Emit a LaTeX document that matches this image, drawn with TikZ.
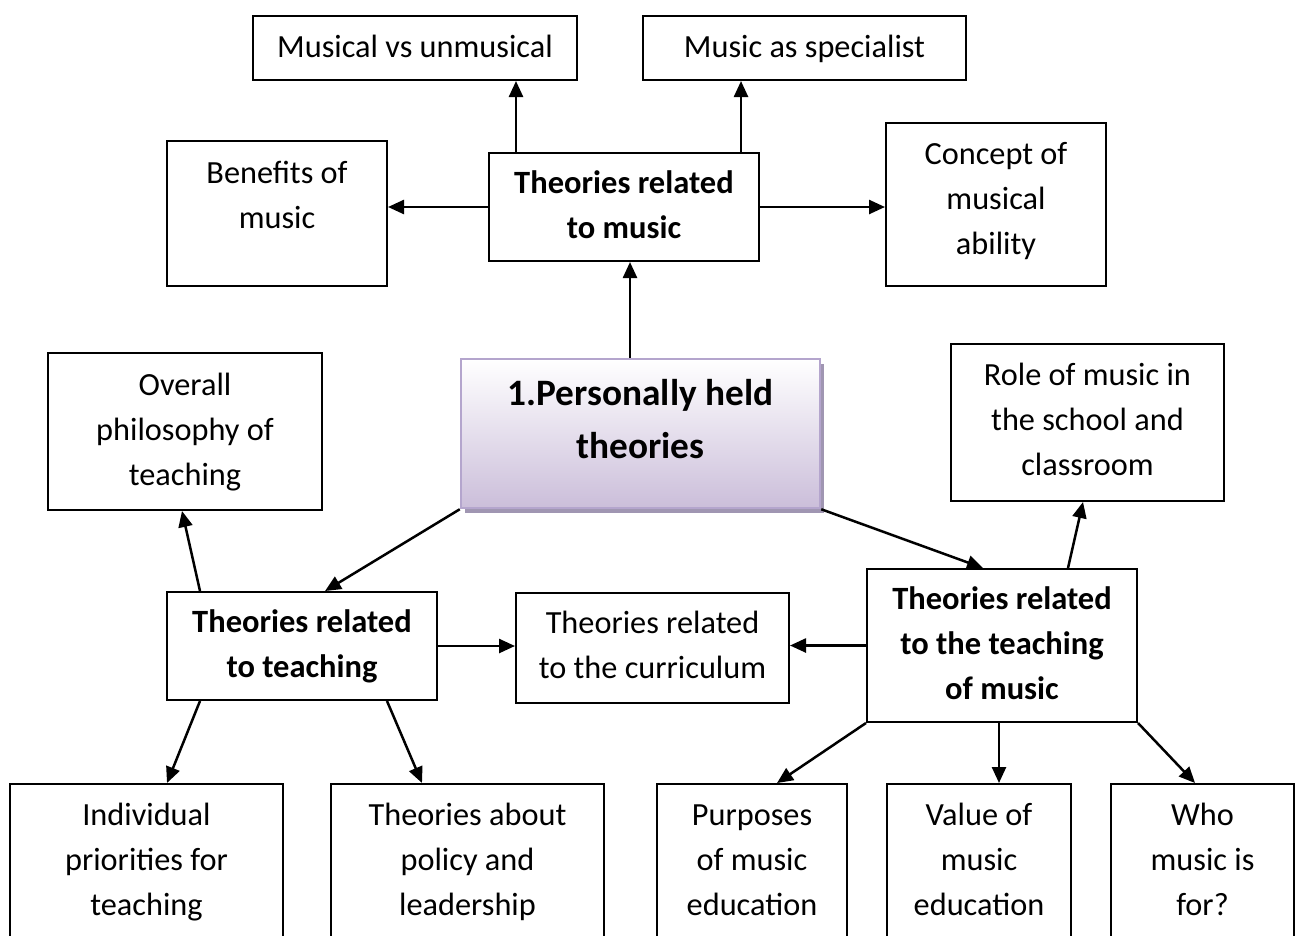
\documentclass[tikz,border=0pt]{standalone}
\usepackage{fontspec}
\setmainfont{Carlito}
\usetikzlibrary{arrows.meta,shadows}
\definecolor{cenborder}{RGB}{180,165,205}
\definecolor{cenbottom}{RGB}{203,190,218}
\definecolor{censhadow}{RGB}{160,150,178}
\begin{document}
\begin{tikzpicture}[x=1pt,y=-1pt,
  box/.style={draw, line width=2pt, inner sep=0pt, minimum width=#1},
  txt/.style={font=\fontsize{32.3pt}{45pt}\selectfont, align=center, inner sep=0pt},
  btxt/.style={txt, font=\fontsize{32.5pt}{45pt}\selectfont\bfseries},
  arr/.style={line width=2.5pt, -{Triangle[length=16pt,width=14pt]}}]
\useasboundingbox (0,0) rectangle (1300,935);
\clip (0,0) rectangle (1300,935);
% top row
\node[box=324pt, minimum height=64pt, label={[txt]center:\strut Musical vs unmusical}] (mvu) at (415,48) {};
\node[box=323pt, minimum height=64pt, label={[txt]center:\strut Music as specialist}] (mas) at (804.5,48) {};
\node[box=220pt, minimum height=145pt, label={[txt,yshift=17pt]center:\strut Benefits of\\music\strut}] (ben) at (277,213.5) {};
\node[box=270pt, minimum height=108pt, label={[btxt]center:\strut Theories related\\to music\strut}] (trm) at (624,207) {};
\node[box=220pt, minimum height=163pt, label={[txt,yshift=4.5pt]center:\strut Concept of\\musical\\ability\strut}] (con) at (996,204.5) {};
% central
\node[draw=cenborder, line width=2.5pt, inner sep=0pt, minimum width=359pt, minimum height=149pt,
  top color=white, bottom color=cenbottom,
  drop shadow={shadow xshift=4pt, shadow yshift=-5pt, fill=censhadow, opacity=1},
  label={[inner sep=0pt, align=center, font=\fontsize{37.3pt}{53pt}\selectfont\bfseries, yshift=12.6pt]center:\strut 1.Personally held\\theories\strut}] (cen) at (640.5,433.5) {};
% middle row
\node[box=274pt, minimum height=157pt, label={[txt]center:\strut Overall\\philosophy of\\teaching\strut}] (ovr) at (185,431.5) {};
\node[box=273pt, minimum height=157pt, label={[txt,yshift=1.5pt]center:\strut Role of music in\\the school and\\classroom\strut}] (rol) at (1087.5,422.5) {};
\node[box=270pt, minimum height=108pt, label={[btxt]center:\strut Theories related\\to teaching\strut}] (trt) at (302,646) {};
\node[box=273pt, minimum height=110pt, label={[txt,yshift=1.5pt]center:\strut Theories related\\to the curriculum\strut}] (cur) at (652.5,648) {};
\node[box=270pt, minimum height=153pt, label={[btxt]center:\strut Theories related\\to the teaching\\of music\strut}] (ttm) at (1002,645.5) {};
% bottom row
\node[box=273pt, minimum height=176pt, label={[txt,yshift=10.5pt]center:\strut Individual\\priorities for\\teaching\strut}] (ind) at (146.5,872) {};
\node[box=273pt, minimum height=176pt, label={[txt,yshift=10.5pt]center:\strut Theories about\\policy and\\leadership\strut}] (pol) at (467.5,872) {};
\node[box=190pt, minimum height=176pt, label={[txt,yshift=10.5pt]center:\strut Purposes\\of music\\education\strut}] (pur) at (752,872) {};
\node[box=184pt, minimum height=176pt, label={[txt,yshift=10.5pt]center:\strut Value of\\music\\education\strut}] (val) at (979,872) {};
\node[box=183pt, minimum height=176pt, label={[txt,yshift=10.5pt]center:\strut Who\\music is\\for?\strut}] (who) at (1202.5,872) {};
% connectors
\draw[arr] ([xshift=-10.5pt]cen.north) -- ([xshift=-10.5pt]cen.north |- trm.south);
\draw[arr] ([xshift=-108pt]trm.north) -- ([xshift=-108pt]trm.north |- mvu.south);
\draw[arr] ([xshift=117pt]trm.north) -- ([xshift=117pt]trm.north |- mas.south);
\draw[arr] (trm.west) -- (trm.west -| ben.east);
\draw[arr] (trm.east) -- (trm.east -| con.west);
\draw[arr] (cen.south west) -- ([xshift=23pt]trt.north);
\draw[arr] (cen.south east) -- ([xshift=-19pt]ttm.north);
\draw[arr] ([xshift=-102pt]trt.north) -- ([xshift=-3pt]ovr.south);
\draw[arr] (trt.east) -- (trt.east -| cur.west);
\draw[arr] (ttm.west) -- (ttm.west -| cur.east);
\draw[arr] ([xshift=66pt]ttm.north) -- ([xshift=-4.5pt]rol.south);
\draw[arr] ([xshift=-102pt]trt.south) -- ([xshift=20.5pt]ind.north);
\draw[arr] ([xshift=85pt]trt.south) -- ([xshift=-45.5pt]pol.north);
\draw[arr] (ttm.south west) -- ([xshift=25pt]pur.north);
\draw[arr] ([xshift=-3pt]ttm.south) -- ([xshift=-3pt]ttm.south |- val.north);
\draw[arr] (ttm.south east) -- ([xshift=-7.5pt]who.north);
\end{tikzpicture}
\end{document}
